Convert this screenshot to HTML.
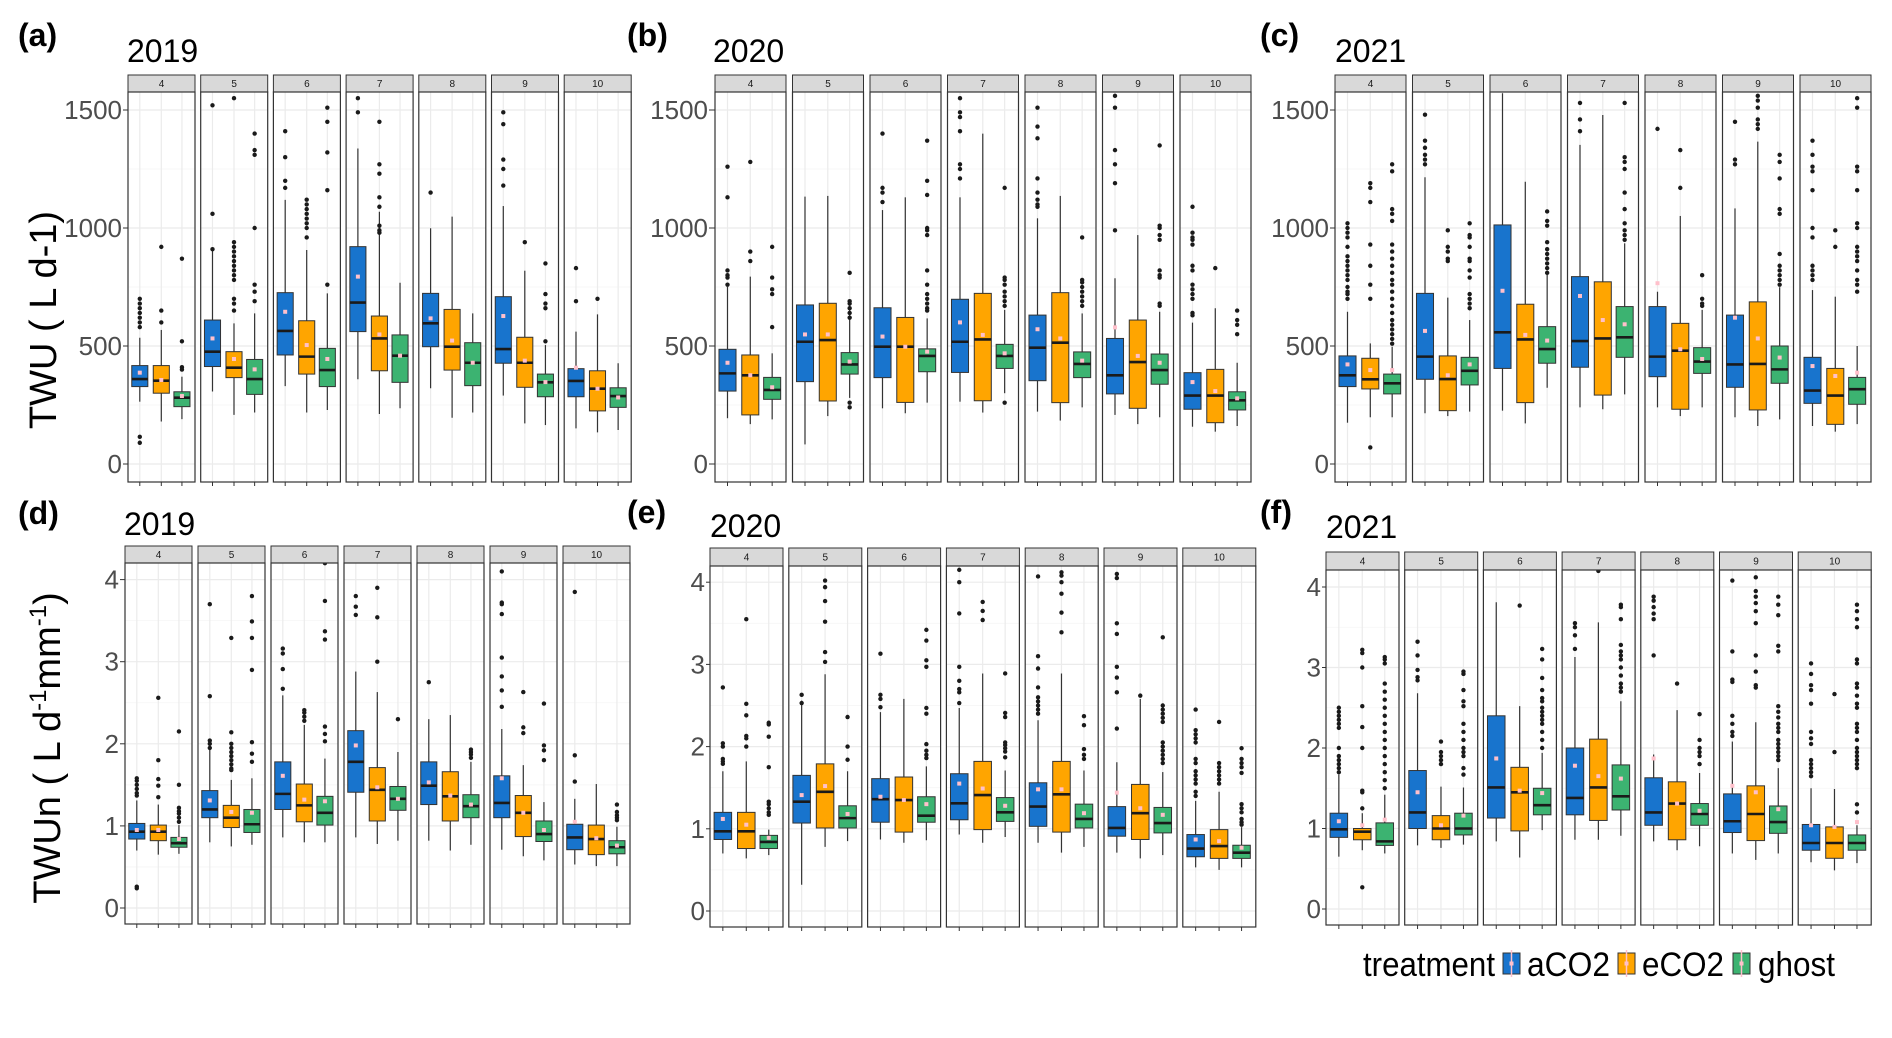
<!DOCTYPE html>
<html><head><meta charset="utf-8"><style>
html,body{margin:0;padding:0;background:#fff;}
svg{display:block;font-family:"Liberation Sans",Arial,sans-serif;}
</style></head><body>
<svg id="chart" width="1892" height="1038" viewBox="0 0 1892 1038" xmlns="http://www.w3.org/2000/svg">
<rect x="0" y="0" width="1892" height="1038" fill="#fff"/>
<g font-weight="bold" font-size="32" fill="#000">
<text x="18" y="46">(a)</text>
<text x="627" y="46">(b)</text>
<text x="1260" y="46">(c)</text>
<text x="18" y="524">(d)</text>
<text x="627" y="523">(e)</text>
<text x="1260" y="523">(f)</text>
</g>
<g font-size="32" fill="#000">
<text x="127" y="62">2019</text>
<text x="713" y="62">2020</text>
<text x="1335" y="62">2021</text>
<text x="124" y="535">2019</text>
<text x="710" y="537">2020</text>
<text x="1326" y="538">2021</text>
</g>
<text transform="translate(56,320) rotate(-90)" text-anchor="middle" font-size="38" fill="#000">TWU ( L d-1)</text>
<text transform="translate(60,748) rotate(-90)" text-anchor="middle" font-size="38" fill="#000">TWUn ( L d<tspan font-size="24" dy="-14">-1</tspan><tspan dy="14">mm</tspan><tspan font-size="24" dy="-14">-1</tspan><tspan dy="14">)</tspan></text>
<g id="panels"></g>
<g font-size="34" fill="#000">
<text x="1363" y="976" textLength="132" lengthAdjust="spacingAndGlyphs">treatment</text>
<rect x="1503" y="953" width="17" height="21" fill="#1874CD" stroke="#333"/>
<line x1="1511.5" y1="950" x2="1511.5" y2="977" stroke="#ffc0cb" stroke-width="1.5"/>
<rect x="1509.5" y="961.5" width="4" height="4" fill="#ffc0cb"/>
<text x="1527" y="976" textLength="83" lengthAdjust="spacingAndGlyphs">aCO2</text>
<rect x="1618" y="953" width="17" height="21" fill="#FFA500" stroke="#333"/>
<line x1="1626.5" y1="950" x2="1626.5" y2="977" stroke="#ffc0cb" stroke-width="1.5"/>
<rect x="1624.5" y="961.5" width="4" height="4" fill="#ffc0cb"/>
<text x="1642" y="976" textLength="82" lengthAdjust="spacingAndGlyphs">eCO2</text>
<rect x="1733" y="953" width="17" height="21" fill="#3CB371" stroke="#333"/>
<line x1="1741.5" y1="950" x2="1741.5" y2="977" stroke="#ffc0cb" stroke-width="1.5"/>
<rect x="1739.5" y="961.5" width="4" height="4" fill="#ffc0cb"/>
<text x="1758" y="976" textLength="77" lengthAdjust="spacingAndGlyphs">ghost</text>
</g>
</svg>
<script>
// ---- data: [lowWhisker, q1, median, q3, highWhisker, mean] per month 4..10 ----
const months = ["4","5","6","7","8","9","10"];
const treatments = ["aCO2","eCO2","ghost"];
const ticksTWU = [0,500,1000,1500];
const ticksTWUn = [0,1,2,3,4];

const statsA_aCO2 = [[264,328,360,417,535,387],[307,413,476,610,907,532],[330,462,564,726,1119,645],[359,561,684,921,1337,794],[321,497,596,723,999,617],[290,427,487,709,1093,627],[151,285,352,404,561,408]];
const statsA_eCO2 = [[180,300,353,417,568,356],[208,366,408,476,596,445],[218,381,455,607,907,504],[212,395,532,627,1069,549],[196,398,497,655,1048,523],[172,325,429,537,819,438],[134,225,319,395,634,319]];
const statsA_ghost = [[190,243,281,306,370,288],[218,295,360,443,638,401],[229,328,398,490,723,445],[236,346,459,547,768,459],[218,332,429,514,638,429],[165,285,346,381,504,347],[144,240,288,323,427,282]];
const outA_aCO2 = [[700,680,660,640,620,600,580,115,90],[1520,1060,910],[1410,1300,1200,1170],[1550,1490],[1150],[1490,1440,1290,1250,1180],[830,690]];
const outA_eCO2 = [[920,650,600],[1550,940,920,900,880,860,840,820,800,780,700,680,650],[1120,1100,1080,1060,1040,1020,1000,960],[1450,1270,1230,1130,1090,1010,990,980],[],[940],[700]];
const outA_ghost = [[870,520,410,400],[1400,1330,1310,1000,760,730,690],[1510,1450,1320,1160,760],[],[],[850,720,680,660,520],[]];

const statsB_aCO2 = [[194,309,384,486,751,429],[83,349,518,674,1133,549],[236,366,497,662,1076,540],[264,388,518,698,1130,600],[222,353,493,631,1041,571],[208,297,376,532,787,579],[158,232,290,387,599,347]];
const statsB_eCO2 = [[169,208,376,462,794,376],[203,267,525,681,1136,549],[215,261,497,621,1130,497],[218,268,528,723,1400,547],[184,260,514,726,1136,532],[169,236,432,610,970,458],[137,175,290,401,660,309]];
const statsB_ghost = [[189,274,314,367,469,325],[280,381,422,472,695,434],[260,391,458,488,617,476],[300,405,458,507,653,469],[240,366,424,475,638,438],[198,338,398,466,645,429],[161,229,270,306,429,278]];
const outB_aCO2 = [[1260,1130,820,800,790,760],[],[1400,1170,1150,1110],[1550,1490,1470,1410,1270,1250,1210],[1510,1430,1380,1210,1150,1120,1100,1090],[1560,1510,1330,1270,1190,990],[1090,980,960,950,930,840,820,760,740,720,700,640,630]];
const outB_eCO2 = [[1280,900,860],[],[],[],[],[],[830]];
const outB_ghost = [[920,790,740,720,580],[810,690,680,660,640,620,260,240],[1370,1200,1140,1000,990,970,820,760,720,700,680,660,650],[1170,790,780,760,730,710,690,670,260],[960,780,770,750,730,710,690,670],[1350,1010,1000,970,950,820,800,790,680,670],[650,610,590,550]];

const statsC_aCO2 = [[175,328,376,458,645,422],[215,359,455,723,1215,564],[226,405,558,1013,1571,734],[240,410,521,794,1352,712],[240,370,455,667,730,766],[198,325,422,631,1083,620],[161,257,311,452,737,415]];
const statsC_eCO2 = [[198,318,359,448,511,398],[203,226,360,458,705,376],[172,260,528,677,1196,547],[232,292,532,772,1479,610],[203,232,480,596,1051,486],[161,229,424,687,1366,532],[137,168,290,405,709,373]];
const statsC_ghost = [[198,297,342,381,497,398],[222,335,395,452,610,422],[323,427,487,582,801,523],[295,452,537,667,935,592],[240,384,434,493,653,445],[189,342,401,500,749,451],[169,253,317,367,500,387]];
const outC_aCO2 = [[1020,1000,980,960,920,880,860,840,820,800,780,750,730,720,700],[1480,1370,1340,1310,1290,1270],[],[1530,1460,1410],[1420],[1450,1290,1270],[1370,1310,1260,1240,1160,1000,960,840,820,800,780]];
const outC_eCO2 = [[1190,1170,1110,930,840,760,700,70],[990,920,900,870,860],[],[],[1330,1170],[1560,1540,1510,1460,1440,1420],[990,920]];
const outC_ghost = [[1270,1240,1080,1060,1030,930,900,870,840,810,780,760,730,700,670,640,610,590,570,550,530,510],[1020,970,960,920,870,860,820,790,720,700,680,660],[1070,1030,1010,940,910,890,870,850,830,810],[1530,1300,1280,1250,1150,1080,1020,990,970,950],[800,700,680,670],[1310,1280,1210,1080,1060,890,840,820,800,780,760],[1550,1510,1260,1240,1160,1020,1000,920,900,880,860,820,780,760,730]];

const statsD_aCO2 = [[0.70,0.84,0.93,1.03,1.31,0.95],[0.80,1.10,1.20,1.43,1.96,1.31],[0.86,1.20,1.39,1.78,2.59,1.61],[0.86,1.41,1.78,2.16,2.88,1.98],[0.82,1.26,1.49,1.78,2.30,1.53],[0.71,1.10,1.28,1.61,2.18,1.58],[0.53,0.71,0.86,1.02,1.33,1.05]];
const statsD_eCO2 = [[0.65,0.82,0.93,1.01,1.26,0.95],[0.75,0.98,1.10,1.25,1.56,1.17],[0.80,1.05,1.25,1.51,2.23,1.32],[0.78,1.06,1.44,1.71,2.63,1.47],[0.70,1.06,1.36,1.66,2.35,1.37],[0.63,0.87,1.16,1.37,1.74,1.16],[0.51,0.65,0.84,1.01,1.51,0.85]];
const statsD_ghost = [[0.66,0.74,0.79,0.86,1.01,0.84],[0.77,0.92,1.02,1.20,1.58,1.16],[0.80,1.01,1.16,1.36,1.82,1.30],[0.82,1.19,1.33,1.48,1.90,1.33],[0.77,1.10,1.24,1.38,1.78,1.26],[0.58,0.81,0.90,1.06,1.29,0.95],[0.51,0.66,0.74,0.82,0.99,0.76]];
const outD_aCO2 = [[1.58,1.55,1.5,1.45,1.4,1.37,0.26,0.24],[3.7,2.58,2.04,2.0,1.95],[3.16,3.1,2.91,2.67],[3.8,3.67,3.57],[2.75],[4.1,3.72,3.7,3.58,3.05,2.82,2.65,2.45],[3.85,1.86,1.54]];
const outD_eCO2 = [[2.56,1.8,1.57,1.49,1.35],[3.29,2.14,2.0,1.95,1.9,1.85,1.8,1.75,1.7,1.68],[2.41,2.38,2.33,2.28],[3.9,3.54,3.0],[],[2.63,2.2,2.13],[]];
const outD_ghost = [[2.15,1.5,1.22,1.18,1.15,1.1,1.05],[3.8,3.49,3.29,2.9,2.02,1.88,1.78],[4.2,3.74,3.37,3.27,2.21,2.12,2.03],[2.3],[1.93,1.9,1.87,1.83],[2.49,1.98,1.92,1.8],[1.26,1.17,1.13,1.1,1.07]];

const statsE_aCO2 = [[0.70,0.87,0.97,1.20,1.70,1.12],[0.32,1.07,1.33,1.65,2.56,1.41],[0.87,1.08,1.36,1.61,2.42,1.39],[0.93,1.11,1.31,1.67,2.47,1.55],[0.83,1.03,1.27,1.56,2.32,1.48],[0.71,0.91,1.01,1.27,1.81,1.44],[0.53,0.66,0.76,0.93,1.34,0.87]];
const statsE_eCO2 = [[0.64,0.76,0.97,1.20,1.82,1.05],[0.78,1.01,1.45,1.79,2.88,1.52],[0.83,0.96,1.35,1.63,2.58,1.35],[0.83,0.99,1.41,1.82,2.89,1.49],[0.71,0.96,1.42,1.82,2.89,1.48],[0.64,0.87,1.19,1.54,2.58,1.25],[0.50,0.64,0.79,0.99,1.45,0.85]];
const statsE_ghost = [[0.68,0.76,0.84,0.92,0.99,0.89],[0.85,1.01,1.13,1.28,1.70,1.18],[0.86,1.08,1.16,1.39,1.76,1.30],[0.90,1.09,1.20,1.38,1.71,1.28],[0.78,1.01,1.12,1.30,1.71,1.19],[0.68,0.95,1.07,1.26,1.69,1.17],[0.53,0.64,0.71,0.80,1.02,0.77]];
const outE_aCO2 = [[2.72,2.04,2.0,1.85,1.82,1.79],[2.63,2.53],[3.13,2.63,2.58,2.48],[4.15,4.0,3.62,2.97,2.8,2.7,2.66,2.53],[4.07,3.1,2.95,2.72,2.6,2.55,2.5,2.45,2.4],[4.1,4.05,3.5,3.37,2.97,2.84,2.66,2.22],[2.45,2.2,2.15,2.1,2.05,1.85,1.8,1.7,1.65,1.6,1.55,1.45,1.4]];
const outE_eCO2 = [[3.55,2.52,2.38,2.13,2.1,2.0],[4.02,3.94,3.77,3.52,3.15,3.03],[],[3.76,3.65,3.54],[4.12,4.08,4.0,3.86,3.63,3.39],[2.62],[2.3,1.8,1.75,1.7,1.65,1.6,1.55]];
const outE_ghost = [[2.29,2.27,2.12,1.75,1.33,1.3,1.25,1.2,1.17],[2.36,2.0,1.84],[3.42,3.29,3.05,2.97,2.47,2.4,2.03,1.95,1.9,1.86],[2.89,2.41,2.36,2.05,2.02,1.98,1.94,1.87],[2.37,2.26,1.97,1.9,1.85],[3.33,2.5,2.45,2.4,2.35,2.3,2.05,2.0,1.95,1.9,1.85,1.8],[1.98,1.85,1.8,1.75,1.68,1.3,1.25,1.2,1.12,1.08,1.05]];

const statsF_aCO2 = [[0.65,0.89,0.99,1.19,1.67,1.09],[0.79,1.00,1.20,1.72,2.68,1.45],[0.84,1.13,1.51,2.40,3.81,1.87],[0.86,1.17,1.38,2.00,3.13,1.78],[0.84,1.04,1.20,1.63,1.92,1.87],[0.69,0.95,1.09,1.43,2.08,1.53],[0.58,0.73,0.82,1.05,1.50,1.04]];
const statsF_eCO2 = [[0.73,0.86,0.96,1.00,1.19,1.04],[0.76,0.86,1.00,1.16,1.52,1.04],[0.64,0.97,1.45,1.76,2.52,1.47],[0.86,1.10,1.51,2.11,3.56,1.65],[0.73,0.86,1.31,1.58,2.47,1.31],[0.61,0.85,1.18,1.53,2.32,1.45],[0.48,0.63,0.82,1.02,1.49,1.02]];
const statsF_ghost = [[0.69,0.79,0.84,1.07,1.42,1.11],[0.80,0.92,1.00,1.19,1.51,1.16],[0.98,1.17,1.29,1.50,1.94,1.44],[0.91,1.23,1.40,1.79,2.58,1.62],[0.78,1.04,1.18,1.31,1.69,1.22],[0.69,0.94,1.08,1.28,1.75,1.24],[0.57,0.73,0.82,0.92,1.04,1.08]];
const outF_aCO2 = [[2.5,2.45,2.4,2.35,2.3,2.25,2.0,1.9,1.85,1.8,1.75,1.7],[3.32,3.15,2.97,2.88,2.84],[],[3.55,3.5,3.4,3.23],[3.88,3.83,3.75,3.67,3.6,3.15],[4.08,3.2,2.85,2.82,2.4,2.3,2.2,2.15],[3.05,2.92,2.78,2.72,2.55,2.2,2.12,2.05,1.85,1.8,1.75,1.7,1.65]];
const outF_eCO2 = [[3.22,3.18,3.0,2.52,2.26,2.0,1.47,1.45,1.25,0.27],[2.08,1.95,1.9,1.85,1.8],[3.77],[4.2],[2.8],[4.12,3.95,3.88,3.8,3.7,3.55,3.15,2.95,2.78,2.75],[2.67,1.95]];
const outF_ghost = [[3.13,3.1,3.05,2.8,2.7,2.6,2.5,2.4,2.3,2.2,2.1,2.0,1.9,1.8,1.7,1.6,1.5],[2.95,2.92,2.72,2.58,2.52,2.3,2.2,2.1,2.0,1.95,1.9,1.75,1.67],[3.23,3.1,2.87,2.72,2.62,2.58,2.5,2.45,2.4,2.35,2.3,2.2,2.1,2.0],[3.78,3.75,3.6,3.28,3.2,3.15,3.1,3.0,2.9,2.8,2.75,2.7],[2.42,2.1,2.0,1.95,1.9,1.8],[3.88,3.78,3.65,3.27,3.2,2.52,2.45,2.38,2.3,2.25,2.2,2.1,2.05,2.0,1.95,1.9,1.85],[3.78,3.7,3.6,3.5,3.1,3.05,2.8,2.75,2.65,2.55,2.5,2.3,2.25,2.2,2.1,2.0,1.95,1.9,1.85,1.8,1.75,1.3,1.2]];

const colors = ["#1874CD","#FFA500","#3CB371"];
const NS = "http://www.w3.org/2000/svg";
function mk(tag, attrs, parent){const e=document.createElementNS(NS,tag);for(const k in attrs)e.setAttribute(k,attrs[k]);if(parent)parent.appendChild(e);return e;}

const panelDefs = [
 {id:"a", stats:[statsA_aCO2,statsA_eCO2,statsA_ghost], outs:[outA_aCO2,outA_eCO2,outA_ghost], ticks:ticksTWU, x0:128, pitch:72.7, w:67, stripTop:75, stripH:17, bottom:482, y0:464, ppu:0.236, labelRight:122},
 {id:"b", stats:[statsB_aCO2,statsB_eCO2,statsB_ghost], outs:[outB_aCO2,outB_eCO2,outB_ghost], ticks:ticksTWU, x0:715, pitch:77.5, w:71, stripTop:75, stripH:17, bottom:482, y0:464, ppu:0.236, labelRight:708},
 {id:"c", stats:[statsC_aCO2,statsC_eCO2,statsC_ghost], outs:[outC_aCO2,outC_eCO2,outC_ghost], ticks:ticksTWU, x0:1335, pitch:77.5, w:71, stripTop:75, stripH:17, bottom:482, y0:464, ppu:0.236, labelRight:1329},
 {id:"d", stats:[statsD_aCO2,statsD_eCO2,statsD_ghost], outs:[outD_aCO2,outD_eCO2,outD_ghost], ticks:ticksTWUn, x0:125, pitch:73, w:67, stripTop:546, stripH:17, bottom:924, y0:908, ppu:82.1, labelRight:119},
 {id:"e", stats:[statsE_aCO2,statsE_eCO2,statsE_ghost], outs:[outE_aCO2,outE_eCO2,outE_ghost], ticks:ticksTWUn, x0:710, pitch:78.8, w:73, stripTop:548, stripH:18, bottom:927, y0:911, ppu:82.2, labelRight:705},
 {id:"f", stats:[statsF_aCO2,statsF_eCO2,statsF_ghost], outs:[outF_aCO2,outF_eCO2,outF_ghost], ticks:ticksTWUn, x0:1326, pitch:78.7, w:73, stripTop:552, stripH:18, bottom:925, y0:909, ppu:80.5, labelRight:1321}
];
const boxFrac = [0.176,0.497,0.805];
const root = document.getElementById("panels");
const defs = mk("defs",{},root);

panelDefs.forEach(p=>{
  const g = mk("g",{},root);
  
  
  const yS = v => p.y0 - v*p.ppu;
  const top = p.stripTop + p.stripH;
  const step = p.ticks[1]-p.ticks[0];
  p.ticks.forEach(t=>{
    const tl = mk("text",{x:p.labelRight,y:yS(t)+9,"text-anchor":"end","font-size":"26",fill:"#4d4d4d"},g);
    
    
    tl.textContent = String(t);
    mk("line",{x1:p.labelRight+1,x2:p.x0,y1:yS(t),y2:yS(t),stroke:"#333","stroke-width":"1"},g);
  });
  months.forEach((m,i)=>{
    const fx = p.x0 + i*p.pitch;
    const fg = mk("g",{},g);
    
    
    const cid = "clip-"+p.id+"-"+i;
    const cp = mk("clipPath",{id:cid},defs);
    mk("rect",{x:fx,y:top,width:p.w,height:p.bottom-top},cp);
    const st = mk("rect",{x:fx,y:p.stripTop,width:p.w,height:p.stripH,fill:"#d9d9d9",stroke:"#333","stroke-width":"1"},fg);
    
    
    const stt = mk("text",{x:fx+p.w/2,y:p.stripTop+p.stripH/2+3.5,"text-anchor":"middle","font-size":"10",fill:"#1a1a1a"},fg);
    
    
    stt.textContent = m;
    const inner = mk("g",{"clip-path":"url(#"+cid+")"},fg);
    mk("rect",{x:fx,y:top,width:p.w,height:p.bottom-top,fill:"#fff"},inner);
    for(let v=0; v<=p.ticks[p.ticks.length-1]+step; v+=step/2){
      const isMajor = Math.abs((v/step)-Math.round(v/step))<1e-6;
      mk("line",{x1:fx,x2:fx+p.w,y1:yS(v),y2:yS(v),stroke:isMajor?"#ebebeb":"#f5f5f5","stroke-width":isMajor?"1.2":"0.8"},inner);
    }
    boxFrac.forEach(f=>{mk("line",{x1:fx+f*p.w,x2:fx+f*p.w,y1:top,y2:p.bottom,stroke:"#ebebeb","stroke-width":"1.2"},inner);});
    treatments.forEach((tr,k)=>{
      const s = p.stats[k][i];
      const cx = fx + boxFrac[k]*p.w;
      const bw = p.w*0.24;
      const bg = mk("g",{},inner);
      
      
      mk("line",{x1:cx,x2:cx,y1:yS(s[4]),y2:yS(s[3]),stroke:"#333","stroke-width":"1.2"},bg);
      mk("line",{x1:cx,x2:cx,y1:yS(s[1]),y2:yS(s[0]),stroke:"#333","stroke-width":"1.2"},bg);
      mk("rect",{x:cx-bw/2,y:yS(s[3]),width:bw,height:Math.max(1,yS(s[1])-yS(s[3])),fill:colors[k],stroke:"#333","stroke-width":"1"},bg);
      mk("line",{x1:cx-bw/2,x2:cx+bw/2,y1:yS(s[2]),y2:yS(s[2]),stroke:"#1a1a1a","stroke-width":"2.6"},bg);
      mk("rect",{x:cx-2,y:yS(s[5])-2,width:4,height:4,fill:"#ffc0cb"},bg);
      p.outs[k][i].forEach(o=>{
        const c = mk("circle",{cx:cx,cy:yS(o),r:"2.2",fill:"#1a1a1a"},bg);
        
        
      });
    });
    mk("rect",{x:fx,y:top,width:p.w,height:p.bottom-top,fill:"none",stroke:"#333","stroke-width":"1.2"},fg);
    boxFrac.forEach(f=>{mk("line",{x1:fx+f*p.w,x2:fx+f*p.w,y1:p.bottom,y2:p.bottom+4,stroke:"#333","stroke-width":"1"},fg);});
  });
});
</script>
</body></html>
